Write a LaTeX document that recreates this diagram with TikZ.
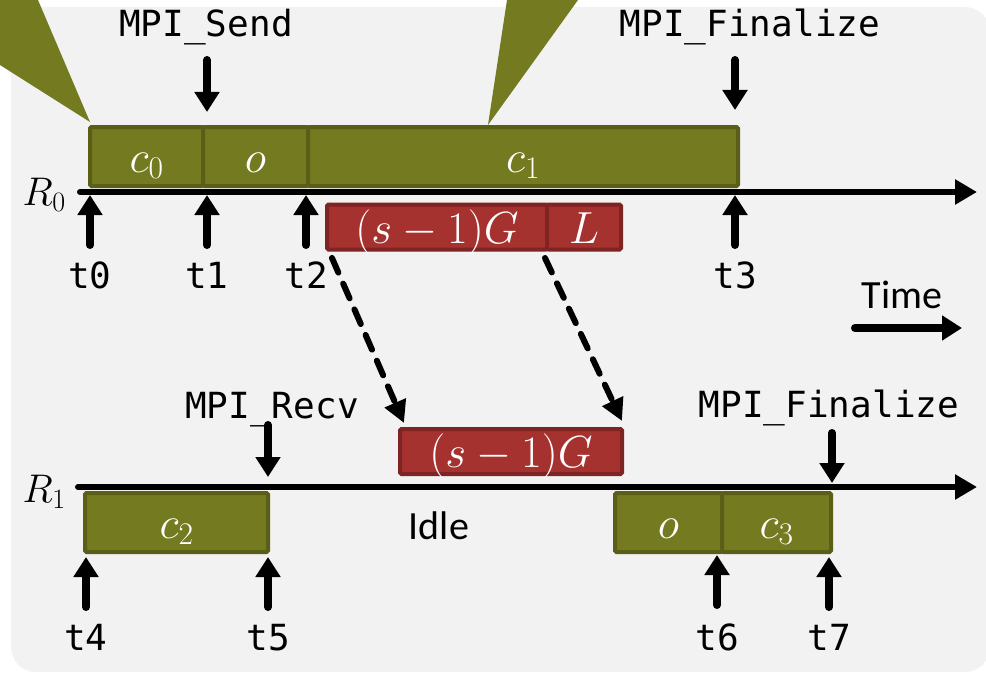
\RequirePackage{fix-cm}
\documentclass[tikz,border=0pt]{standalone}
\usepackage{fontspec}
\setmonofont{DejaVu Sans Mono}
\newfontfamily\labelsans{Carlito}
\usetikzlibrary{arrows.meta}

\definecolor{panelgray}{HTML}{F2F2F2}
\definecolor{olivefill}{HTML}{737A1F}
\definecolor{oliveline}{HTML}{5A5E16}
\definecolor{redfill}{HTML}{A63230}
\definecolor{redline}{HTML}{7E2422}

\newcommand{\codefs}{\fontsize{36}{40}\selectfont\ttfamily}
\newcommand{\boxfs}{\fontsize{45}{49}\selectfont}
\newcommand{\rankfs}{\fontsize{40}{44}\selectfont}
\newcommand{\wordfs}{\fontsize{40}{44}\selectfont\labelsans}

\tikzset{
  olivebox/.style={draw=oliveline, fill=olivefill, line width=4pt, rounded corners=1.5pt,
    inner sep=0pt, minimum height=59pt, text=white, font=\boxfs,
    text height=40pt, text depth=9pt},
  redbox/.style={draw=redline, fill=redfill, line width=4pt, rounded corners=1.5pt,
    inner sep=0pt, minimum height=45pt, text=white, font=\boxfs,
    text height=38pt, text depth=6pt},
  timeline/.style={line width=6pt, line cap=round, -{Triangle[length=22pt,width=24pt]}},
  marker/.style={line width=8pt, line cap=round, -{Triangle[length=20pt,width=24pt]}},
  msgarrow/.style={line width=6pt, line cap=round, dash pattern=on 16pt off 12pt,
    -{Triangle[length=22pt,width=22pt]}},
  codelabel/.style={font=\codefs, inner sep=0pt, anchor=base},
  pointer/.style={fill=olivefill, draw=none},
}

\begin{document}
\begin{tikzpicture}[x=1pt, y=-1pt]
  \useasboundingbox (0,0) rectangle (986,677);

  % panel
  \fill[panelgray, rounded corners=25pt] (11,7) rectangle (990,672);

  % callout pointers
  \fill[pointer] (90,122) -- (38,0) -- (0,0) -- (0,65) -- cycle;
  \fill[pointer] (488,125) -- (507,0) -- (578,0) -- cycle;

  % ---------- rank 0 ----------
  \node[olivebox, minimum width=113pt] (c0) at (146.5,156.5) {$c_0$};
  \node[olivebox, minimum width=105pt] (o0) at (255.5,156.5) {$o$};
  \node[olivebox, minimum width=430pt] (c1) at (523,156.5) {$c_1$};

  \node[redbox, minimum width=220pt] (sg0) at (437,227) {$(s-1)G$};
  \node[redbox, minimum width=74pt] (lat) at (584,227) {$L$};

  \coordinate (r0s) at (80,192);
  \coordinate (r0e) at (977,192);
  \draw[timeline] (r0s) -- (r0e);
  \node[font=\rankfs, anchor=base east, inner sep=0pt] (R0) at (66,205) {$R_0$};

  % ---------- rank 1 ----------
  \node[redbox, minimum width=222pt] (sg1) at (511,451.5) {$(s-1)G$};

  \node[olivebox, minimum width=183pt] (c2) at (176.5,522.5) {$c_2$};
  \node[olivebox, minimum width=107pt] (o1) at (668.5,522.5) {$o$};
  \node[olivebox, minimum width=109pt] (c3) at (776.5,522.5) {$c_3$};

  \coordinate (r1s) at (78,487);
  \coordinate (r1e) at (977,487);
  \draw[timeline] (r1s) -- (r1e);
  \node[font=\rankfs, anchor=base east, inner sep=0pt] (R1) at (66,502) {$R_1$};

  \node[font=\wordfs, anchor=base, inner sep=0pt] (idle) at (439,539) {Idle};

  % ---------- call sites ----------
  \node[codelabel] (send) at (206,37) {MPI\_Send};
  \coordinate (sendA) at (207,60);  \coordinate (sendB) at (207,112);
  \draw[marker] (sendA) -- (sendB);

  \node[codelabel] (fin0) at (750,37) {MPI\_Finalize};
  \coordinate (fin0A) at (735,60);  \coordinate (fin0B) at (735,110);
  \draw[marker] (fin0A) -- (fin0B);

  \node[codelabel] (recv) at (272,418) {MPI\_Recv};
  \coordinate (recvA) at (268,425); \coordinate (recvB) at (268,477);
  \draw[marker] (recvA) -- (recvB);

  \node[codelabel] (fin1) at (829,417) {MPI\_Finalize};
  \coordinate (fin1A) at (832,433); \coordinate (fin1B) at (832,483);
  \draw[marker] (fin1A) -- (fin1B);

  % ---------- time stamps ----------
  \foreach \name/\x/\tip/\base in {t0/90/195/288, t1/207/195/288, t2/306/195/288, t3/735/195/288,
                                  t4/86/557/650, t5/268/557/650, t6/717/555/650, t7/829/557/650}{
    \coordinate (\name tail) at (\x,\tip+50);
    \coordinate (\name tip) at (\x,\tip);
    \draw[marker] (\name tail) -- (\name tip);
    \node[codelabel] (\name) at (\x,\base) {\name};
  }

  % ---------- messages ----------
  \coordinate (m1a) at (332,258); \coordinate (m1b) at (404,423);
  \coordinate (m2a) at (545,258); \coordinate (m2b) at (622,421);
  \draw[msgarrow] (m1a) -- (m1b);
  \draw[msgarrow] (m2a) -- (m2b);

  % ---------- time direction ----------
  \node[font=\wordfs, anchor=base, inner sep=0pt] (time) at (902,308) {Time};
  \coordinate (timeA) at (855,328); \coordinate (timeB) at (962,328);
  \draw[marker] (timeA) -- (timeB);
\end{tikzpicture}
\end{document}
